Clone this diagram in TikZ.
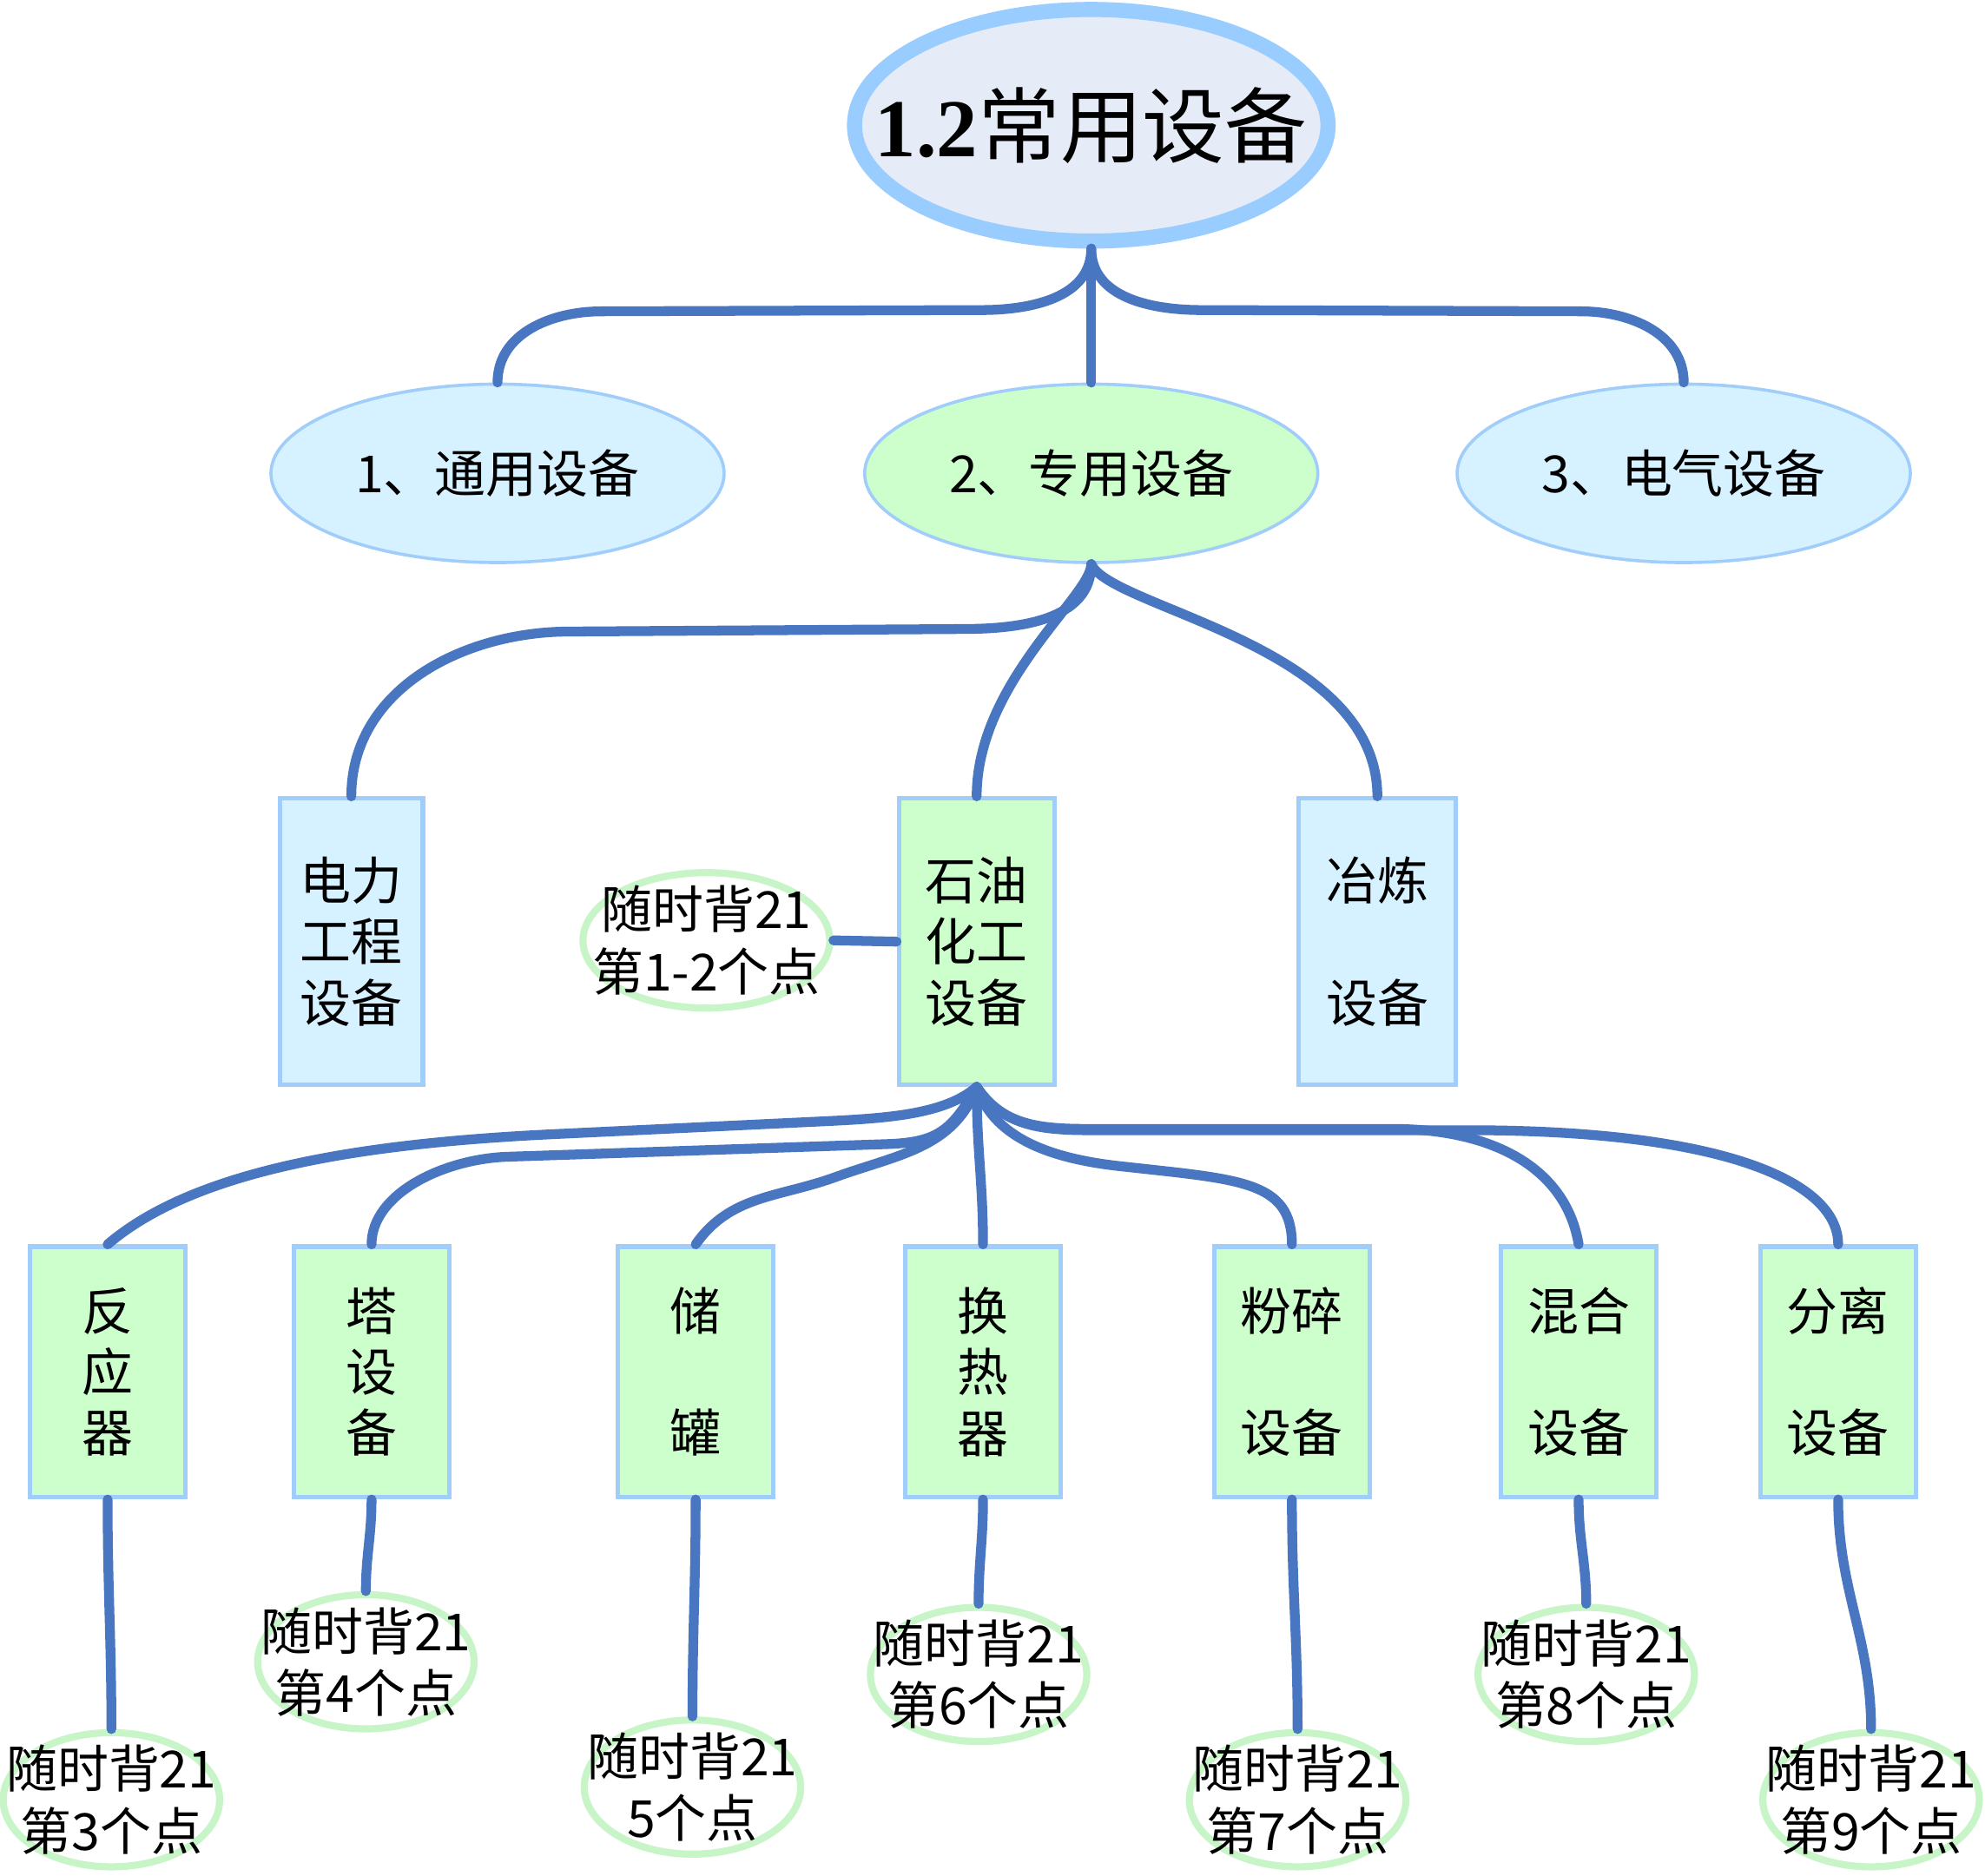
\documentclass[tikz,border=0pt]{standalone}
\usepackage{fontspec}
\setmainfont{Noto Sans CJK SC}
\newfontfamily\titlefont{Liberation Serif}
\usetikzlibrary{shapes.geometric}

\definecolor{linkblue}{HTML}{4876C0}
\definecolor{rootline}{HTML}{99CCFF}
\definecolor{rootfill}{HTML}{E6ECF7}
\definecolor{boxline}{HTML}{A0CDFA}
\definecolor{greenfill}{HTML}{CCFFCC}
\definecolor{bluefill}{HTML}{D6F1FF}
\definecolor{notegreen}{HTML}{C8F5C8}

\tikzset{
  link/.style={draw=linkblue,line width=2.2pt,line cap=round,line join=round},
  rootnode/.style={ellipse,draw=rootline,fill=rootfill,line width=3.4pt,inner xsep=-0.5cm,inner ysep=0pt,
    minimum width=3.74cm,minimum height=1.83cm,font=\fontsize{18.5}{21}\selectfont},
  topic/.style={ellipse,draw=boxline,line width=0.7pt,inner sep=0pt,
    minimum width=3.58cm,minimum height=1.41cm,font=\fontsize{11.5}{14}\selectfont},
  itembox/.style={rectangle,draw=boxline,line width=1pt,inner sep=0pt,
    minimum width=1.23cm,align=center,font=\fontsize{11.5}{13.7}\selectfont},
  note/.style={ellipse,draw=notegreen,line width=1.6pt,fill=white,inner xsep=-0.3cm,inner ysep=-0.15cm,
    minimum width=1.71cm,minimum height=1.06cm,align=center,font=\fontsize{11.5}{13.9}\selectfont},
}

\begin{document}
\begin{tikzpicture}
% Background
\useasboundingbox (0,0) rectangle (15.68,-14.82);
\fill[white] (0,0) rectangle (15.68,-14.82);

% Root
\node[rootnode] (root) at (8.62,-0.99) {{\titlefont\bfseries 1.2}常用设备};

% First level
\node[topic,fill=bluefill] (gen) at (3.93,-3.74) {1、通用设备};
\node[topic,fill=greenfill] (spec) at (8.62,-3.74) {2、专用设备};
\node[topic,fill=bluefill] (elec) at (13.30,-3.74) {3、电气设备};

% Second level
\node[itembox,fill=bluefill,minimum width=1.13cm,minimum height=2.26cm] (power) at (2.775,-7.44) {电力\\工程\\设备};
\node[itembox,fill=greenfill,minimum height=2.26cm] (petro) at (7.715,-7.44) {石油\\化工\\设备};
\node[itembox,fill=bluefill,minimum width=1.24cm,minimum height=2.26cm] (smelt) at (10.88,-7.44) {冶炼\\[0.48cm]设备};
\node[note,minimum width=1.95cm,minimum height=1.07cm] (n12) at (5.58,-7.43) {随时背21\\第1-2个点};

% Third level
\node[itembox,fill=greenfill,minimum height=1.98cm] (react) at (0.85,-10.84) {反\\应\\器};
\node[itembox,fill=greenfill,minimum height=1.98cm] (tower) at (2.935,-10.84) {塔\\设\\备};
\node[itembox,fill=greenfill,minimum height=1.98cm] (tank) at (5.495,-10.84) {储\\[0.48cm]罐};
\node[itembox,fill=greenfill,minimum height=1.98cm] (exch) at (7.765,-10.84) {换\\热\\器};
\node[itembox,fill=greenfill,minimum height=1.98cm] (crush) at (10.205,-10.84) {粉碎\\[0.48cm]设备};
\node[itembox,fill=greenfill,minimum height=1.98cm] (mix) at (12.47,-10.84) {混合\\[0.48cm]设备};
\node[itembox,fill=greenfill,minimum height=1.98cm] (sep) at (14.52,-10.84) {分离\\[0.48cm]设备};

% Notes
\node[note] (n3) at (0.88,-14.22) {随时背21\\第3个点};
\node[note] (n4) at (2.89,-13.13) {随时背21\\第4个点};
\node[note] (n5) at (5.47,-14.12) {随时背21\\5个点};
\node[note] (n6) at (7.73,-13.23) {随时背21\\第6个点};
\node[note] (n7) at (10.25,-14.22) {随时背21\\第7个点};
\node[note] (n8) at (12.53,-13.23) {随时背21\\第8个点};
\node[note] (n9) at (14.78,-14.22) {随时背21\\第9个点};

% Root branches
\draw[link] (root.south) to[out=-90,in=0] (7.75,-2.45) -- (4.75,-2.46) to[out=180,in=90] (gen.north);
\draw[link] (root.south) -- (spec.north);
\draw[link] (root.south) to[out=-90,in=180] (9.49,-2.45) -- (12.49,-2.46) to[out=0,in=90] (elec.north);

% Special equipment branches
\draw[link] (spec.south) to[out=-90,in=0] (7.6,-4.97) -- (4.5,-4.99) to[out=180,in=90] (power.north);
\draw[link] (spec.south) .. controls +(0,-0.25) and +(0,0.9) .. (petro.north);
\draw[link] (spec.south) .. controls +(0.15,-0.35) and +(0,1.2) .. (smelt.north);
\draw[link] (n12.east) -- (petro.west);

% Petrochemical branches
\draw[link] (petro.south) .. controls +(-0.25,-0.22) and +(0.5,0.024) .. (6.5,-8.86) -- (4.4,-8.96)
  .. controls +(-1.5,-0.07) and +(0.7,0.6) .. (react.north);
\draw[link] (petro.south) .. controls +(-0.2,-0.35) and +(0.4,0.013) .. (7.0,-9.04) -- (4.0,-9.14)
  .. controls +(-0.5,-0.02) and +(0,0.4) .. (tower.north);
\draw[link] (petro.south) to[out=-110,in=20] (6.6,-9.3) to[out=200,in=55] (tank.north);
\draw[link] (petro.south) to[out=-90,in=90] (exch.north);
\draw[link] (petro.south) .. controls +(0.15,-0.45) and +(-0.5,0.05) .. (8.9,-9.22)
  .. controls +(0.9,-0.1) and +(0,0.5) .. (crush.north);
\draw[link] (petro.south) .. controls +(0.2,-0.3) and +(-0.4,0) .. (8.6,-8.92) -- (11.0,-8.92)
  .. controls +(0.8,0) and +(-0.1,0.6) .. (mix.north);
\draw[link] (petro.south) .. controls +(0.2,-0.3) and +(-0.4,0) .. (8.6,-8.93) -- (11.6,-8.93)
  .. controls +(2.0,0) and +(0,0.5) .. (sep.north);

% Note links
\draw[link] (react.south) to[out=-90,in=90] (n3.north);
\draw[link] (tower.south) to[out=-90,in=90] (n4.north);
\draw[link] (tank.south) to[out=-90,in=90] (n5.north);
\draw[link] (exch.south) to[out=-90,in=90] (n6.north);
\draw[link] (crush.south) to[out=-90,in=90] (n7.north);
\draw[link] (mix.south) to[out=-90,in=90] (n8.north);
\draw[link] (sep.south) to[out=-90,in=90] (n9.north);
\end{tikzpicture}
\end{document}
